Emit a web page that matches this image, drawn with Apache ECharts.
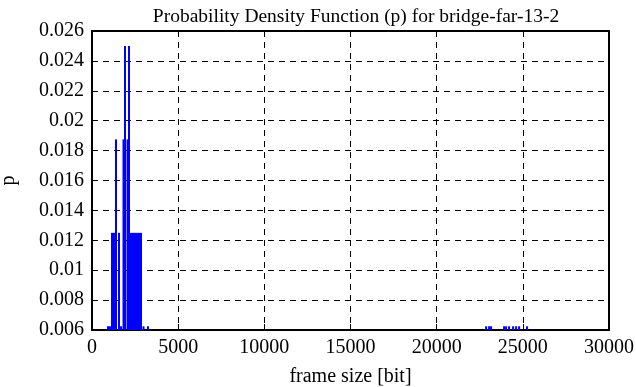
<!DOCTYPE html>
<html>
<head>
<meta charset="utf-8">
<script src="https://cdn.jsdelivr.net/npm/echarts@6/dist/echarts.min.js"></script>
<style>html,body{margin:0;padding:0;background:#fff}#c{width:636px;height:387px}</style>
</head>
<body>
<div id="c"></div>
<script>
// frame size bins [bit]
const frameSizes = [929, 1045, 1161, 1277, 1393, 1567, 1683, 1828, 1915, 2060, 2147, 2264, 2380, 2496, 2612, 2728, 2844, 2989, 3250,
  22868, 23042, 23158, 23912, 24029, 24203, 24435, 24609, 24783, 25247];
// probability density values
const pValues = [0.00625, 0.00625, 0.0125, 0.0125, 0.01875, 0.0125, 0.00625, 0.01875, 0.025, 0.01875, 0.025, 0.0125, 0.0125, 0.0125, 0.0125, 0.0125, 0.0125, 0.00625, 0.00625,
  0.00625, 0.00625, 0.00625, 0.00625, 0.00625, 0.00625, 0.00625, 0.00625, 0.00625, 0.00625];
const xTicks = [0, 5000, 10000, 15000, 20000, 25000, 30000];
const yTicks = [0.006, 0.008, 0.01, 0.012, 0.014, 0.016, 0.018, 0.02, 0.022, 0.024, 0.026];

const font = 'Liberation Serif';
const chart = echarts.init(document.getElementById('c'), null, {renderer: 'canvas'});
chart.setOption({
  animation: false,
  title: {
    text: 'Probability Density Function (p) for bridge-far-13-2',
    left: 351, top: 2, textAlign: 'center',
    textStyle: {fontFamily: font, fontSize: 19.5, fontWeight: 'normal', color: '#000'}
  },
  grid: {left: 92, right: 27, top: 31, bottom: 57, outerBoundsMode: 'none', containLabel: false,
    show: true, borderColor: '#000', borderWidth: 2, backgroundColor: 'transparent'},
  xAxis: {
    type: 'value', min: xTicks[0], max: xTicks[xTicks.length - 1], interval: 5000,
    name: 'frame size [bit]', nameLocation: 'middle', nameGap: 37,
    nameTextStyle: {fontFamily: font, fontSize: 20, color: '#000'},
    axisLine: {show: true, lineStyle: {color: '#000', width: 2}},
    axisTick: {show: true, inside: true, length: 6, lineStyle: {color: '#000', width: 1}},
    axisLabel: {fontFamily: font, fontSize: 20, color: '#000', margin: 8,
      formatter: v => String(v)},
    splitLine: {show: true, lineStyle: {color: '#000', type: [6, 5], width: 1}}
  },
  yAxis: {
    type: 'value', min: yTicks[0], max: yTicks[yTicks.length - 1], interval: 0.002,
    name: 'p', nameLocation: 'middle', nameGap: 73, nameRotate: 90,
    nameTextStyle: {fontFamily: font, fontSize: 20, color: '#000'},
    axisLine: {show: true, lineStyle: {color: '#000', width: 2}},
    axisTick: {show: true, inside: true, length: 6, lineStyle: {color: '#000', width: 1}},
    axisLabel: {fontFamily: font, fontSize: 20, color: '#000', margin: 8,
      formatter: v => String(+v.toFixed(3))},
    splitLine: {show: true, lineStyle: {color: '#000', type: [6, 5], width: 1}}
  },
  series: [{
    type: 'bar',
    data: frameSizes.map((x, i) => [x, pValues[i]]),
    barWidth: 2,
    clip: true,
    itemStyle: {color: '#0000ff'}
  }]
});
</script>
</body>
</html>
